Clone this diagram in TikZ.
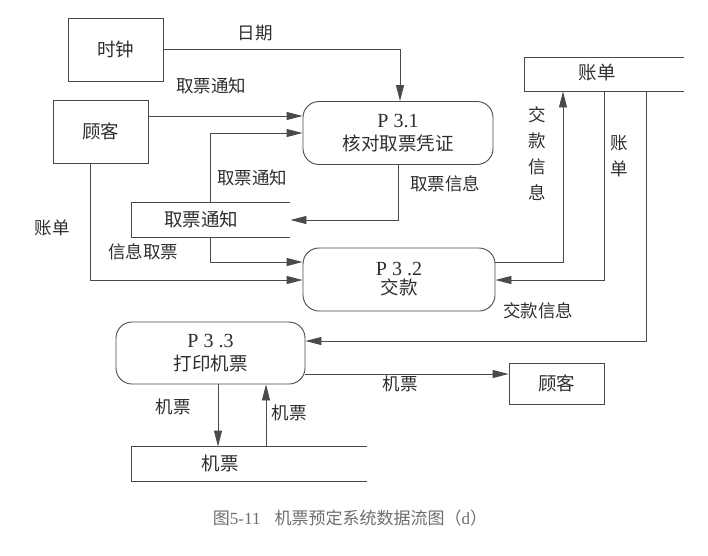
\documentclass[tikz,border=0pt]{standalone}
\usepackage{fontspec}
\setmainfont{Liberation Serif}
\newfontfamily\cjk{Noto Sans CJK SC}
\usetikzlibrary{arrows.meta}
\definecolor{linec}{HTML}{4A4A4A}
\definecolor{txt}{HTML}{2E2E2E}
\definecolor{capc}{HTML}{6E6E6E}
\begin{document}
\begin{tikzpicture}[x=1pt,y=-1pt,line width=0.9pt,
  ent/.style={draw=linec, minimum width=95pt, minimum height=63pt, inner sep=0pt,
    font=\cjk\fontsize{18.5}{18.5}\selectfont, text=txt},
  proc/.style={draw=linec, rounded corners=16pt, minimum width=190pt, minimum height=63pt,
    inner sep=0pt, align=center, text=txt, font=\fontsize{18.5}{23}\selectfont},
  storebox/.style={minimum height=34pt, inner sep=0pt},
  storetext/.style={font=\cjk\fontsize{18.5}{18.5}\selectfont, text=txt, inner sep=0pt},
  lbl/.style={font=\cjk\fontsize{17.5}{17.5}\selectfont, text=txt, inner sep=0pt},
  vlbl/.style={font=\cjk\fontsize{17.5}{26}\selectfont, text=txt, inner sep=0pt, align=center},
  flow/.style={draw=linec, -{Triangle[length=16pt,width=8pt]}},
  plain/.style={draw=linec}]
\useasboundingbox (0,0) rectangle (708,555);

% external entities
\node[ent] (clock) at (115.5,49.5) {时钟};
\node[ent] (cust1) at (100.5,131.5) {顾客};
\node[ent, minimum height=41pt] (cust2) at (556.5,383.5) {顾客};

% processes
\node[proc] (p31) at (398,133) {{\rmfamily\fontsize{20}{20}\selectfont P 3.1}\\{\cjk 核对取票凭证}};
\node[proc, minimum width=192pt] (p32) at (399,279.5) {{\rmfamily\fontsize{20}{20}\selectfont P 3 .2}\\[-4pt]{\cjk 交款}};
\node[proc, minimum width=189pt, minimum height=62pt] (p33) at (210.5,353) {{\rmfamily\fontsize{20}{20}\selectfont P 3 .3}\\{\cjk 打印机票}};

% data stores
\node[storebox, minimum width=158pt] (st1) at (211,220) {};
\node[storetext] (st1t) at (201,219) {取票通知};
\draw[plain] (st1.north east) -- (st1.north west) -- (st1.south west) -- (st1.south east);

\node[storebox, minimum width=159pt, minimum height=33pt] (st2) at (604.5,74.5) {};
\node[storetext] (st2t) at (597,73) {账单};
\draw[plain] (st2.north east) -- (st2.north west) -- (st2.south west) -- (st2.south east);

\node[storebox, minimum width=235pt] (st3) at (249.5,464) {};
\node[storetext] (st3t) at (220,463) {机票};
\draw[plain] (st3.north east) -- (st3.north west) -- (st3.south west) -- (st3.south east);

% flows
\draw[flow] (clock.east) -| ([xshift=2pt]p31.north);
\draw[flow] (cust1.east |- 0,116) -- (p31.west |- 0,116);
\draw[flow] (210,0 |- st1.north) |- (p31.west |- 0,133);
\draw[flow] (p31.south) |- (st1.east);
\draw[flow] (210,0 |- st1.south) |- (p32.west |- 0,262);
\draw[flow] (90,0 |- cust1.south) |- (p32.west |- 0,280);
\draw[flow] (p32.east |- 0,262) -| (563,0 |- st2.south);
\draw[flow] (st2.south) |- (p32.east |- 0,280);
\draw[flow] (646,0 |- st2.south) |- (p33.east |- 0,341);
\draw[flow] (p33.east |- 0,374) -- (cust2.west |- 0,374);
\draw[flow] (218,0 |- p33.south) -- (218,0 |- st3.north);
\draw[flow] (266,0 |- st3.north) -- (266,0 |- p33.south);

% labels
\node[lbl] (l1) at (255,33) {日期};
\node[lbl] (l2) at (211,86) {取票通知};
\node[lbl] (l3) at (252,178) {取票通知};
\node[lbl] (l4) at (445,184) {取票信息};
\node[lbl] (l5) at (52,228) {账单};
\node[lbl] (l6) at (143,252) {信息取票};
\node[vlbl] (l7) at (537,154) {交\\款\\信\\息};
\node[vlbl] (l8) at (619,156) {账\\单};
\node[lbl] (l9) at (538,311) {交款信息};
\node[lbl] (l10) at (400,384) {机票};
\node[lbl] (l11) at (173,407) {机票};
\node[lbl] (l12) at (289,413) {机票};

% caption
\node[text=capc, inner sep=0pt, font=\fontsize{17}{17}\selectfont] (cap) at (350,518)
  {{\cjk 图}5-11\hspace{14pt}{\cjk 机票预定系统数据流图（}d{\cjk ）}};
\end{tikzpicture}
\end{document}
